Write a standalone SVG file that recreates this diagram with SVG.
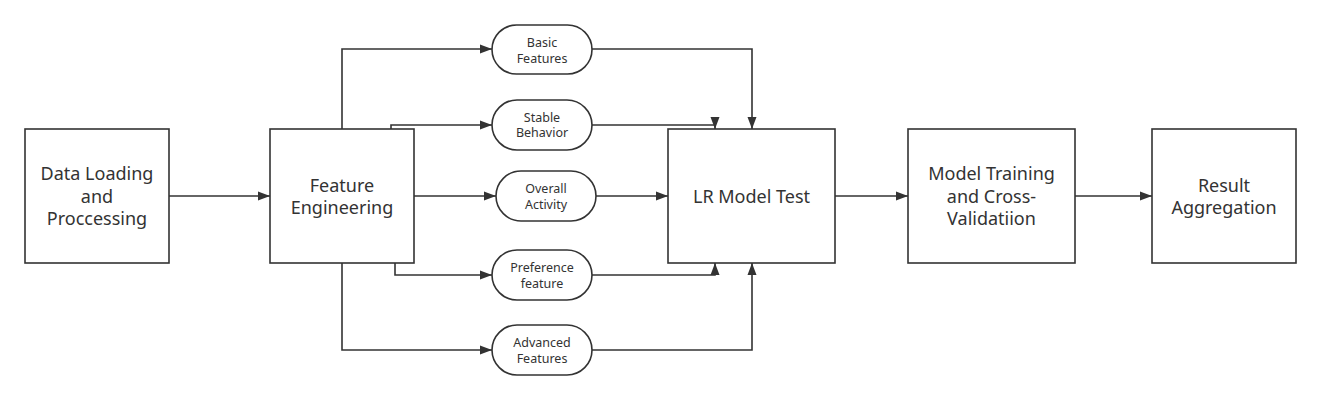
<svg xmlns="http://www.w3.org/2000/svg" width="1321" height="400" viewBox="0 0 1321 400">
<style>
.box{fill:#fff;stroke:#333;stroke-width:1.6}
.pill{fill:#fff;stroke:#333;stroke-width:1.6}
.big{font-family:"Noto Sans","Open Sans",sans-serif;font-size:18px;fill:#333;text-anchor:middle}
.sm{font-family:"Noto Sans","Open Sans",sans-serif;font-size:12.5px;fill:#333;text-anchor:middle}
.c{fill:none;stroke:#333;stroke-width:1.6}
</style>
<defs>
<marker id="ah" viewBox="0 0 12 10" refX="12" refY="5" markerWidth="12" markerHeight="10" markerUnits="userSpaceOnUse" orient="auto">
<path d="M0,0.5 L12,5 L0,9.5 Z" fill="#333"/>
</marker>
</defs>
<rect width="1321" height="400" fill="#fff"/>
<g id="connectors">
<path class="c" d="M169,196 H270" marker-end="url(#ah)"/>
<path class="c" d="M342,129 V49 H492" marker-end="url(#ah)"/>
<path class="c" d="M391,129 V125 H492" marker-end="url(#ah)"/>
<path class="c" d="M414,196 H496" marker-end="url(#ah)"/>
<path class="c" d="M395,263 V275 H492" marker-end="url(#ah)"/>
<path class="c" d="M342,263 V350 H492" marker-end="url(#ah)"/>
<path class="c" d="M592,49 H752 V129" marker-end="url(#ah)"/>
<path class="c" d="M592,125 H715 V129" marker-end="url(#ah)"/>
<path class="c" d="M596,196 H668" marker-end="url(#ah)"/>
<path class="c" d="M592,275 H715 V263" marker-end="url(#ah)"/>
<path class="c" d="M592,350 H752 V263" marker-end="url(#ah)"/>
<path class="c" d="M835,196 H908" marker-end="url(#ah)"/>
<path class="c" d="M1075,196 H1152" marker-end="url(#ah)"/>
</g>
<g id="data-loading">
<rect class="box" x="25" y="129" width="144" height="134"/>
<text class="big" x="97" y="180">Data Loading</text>
<text class="big" x="97" y="202.5">and</text>
<text class="big" x="97" y="225">Proccessing</text>
</g>
<g id="feature-engineering">
<rect class="box" x="270" y="129" width="144" height="134"/>
<text class="big" x="342" y="191.5">Feature</text>
<text class="big" x="342" y="214">Engineering</text>
</g>
<g id="basic-features">
<rect class="pill" x="492" y="25" width="100" height="49" rx="24.5"/>
<text class="sm" x="542" y="47">Basic</text>
<text class="sm" x="542" y="62.5">Features</text>
</g>
<g id="stable-behavior">
<rect class="pill" x="492" y="100" width="100" height="50" rx="25"/>
<text class="sm" x="542" y="121.5">Stable</text>
<text class="sm" x="542" y="137">Behavior</text>
</g>
<g id="overall-activity">
<rect class="pill" x="496" y="171" width="100" height="50" rx="25"/>
<text class="sm" x="546" y="193">Overall</text>
<text class="sm" x="546" y="208.5">Activity</text>
</g>
<g id="preference-feature">
<rect class="pill" x="492" y="250" width="100" height="50" rx="25"/>
<text class="sm" x="542" y="272">Preference</text>
<text class="sm" x="542" y="287.5">feature</text>
</g>
<g id="advanced-features">
<rect class="pill" x="492" y="325" width="100" height="50" rx="25"/>
<text class="sm" x="542" y="347">Advanced</text>
<text class="sm" x="542" y="362.5">Features</text>
</g>
<g id="lr-model-test">
<rect class="box" x="668" y="129" width="167" height="134"/>
<text class="big" x="751.5" y="202.5">LR Model Test</text>
</g>
<g id="model-training">
<rect class="box" x="908" y="129" width="167" height="134"/>
<text class="big" x="991.5" y="180">Model Training</text>
<text class="big" x="991.5" y="202.5">and Cross-</text>
<text class="big" x="991.5" y="225">Validatiion</text>
</g>
<g id="result-aggregation">
<rect class="box" x="1152" y="129" width="144" height="134"/>
<text class="big" x="1224" y="191.5">Result</text>
<text class="big" x="1224" y="214">Aggregation</text>
</g>
</svg>
